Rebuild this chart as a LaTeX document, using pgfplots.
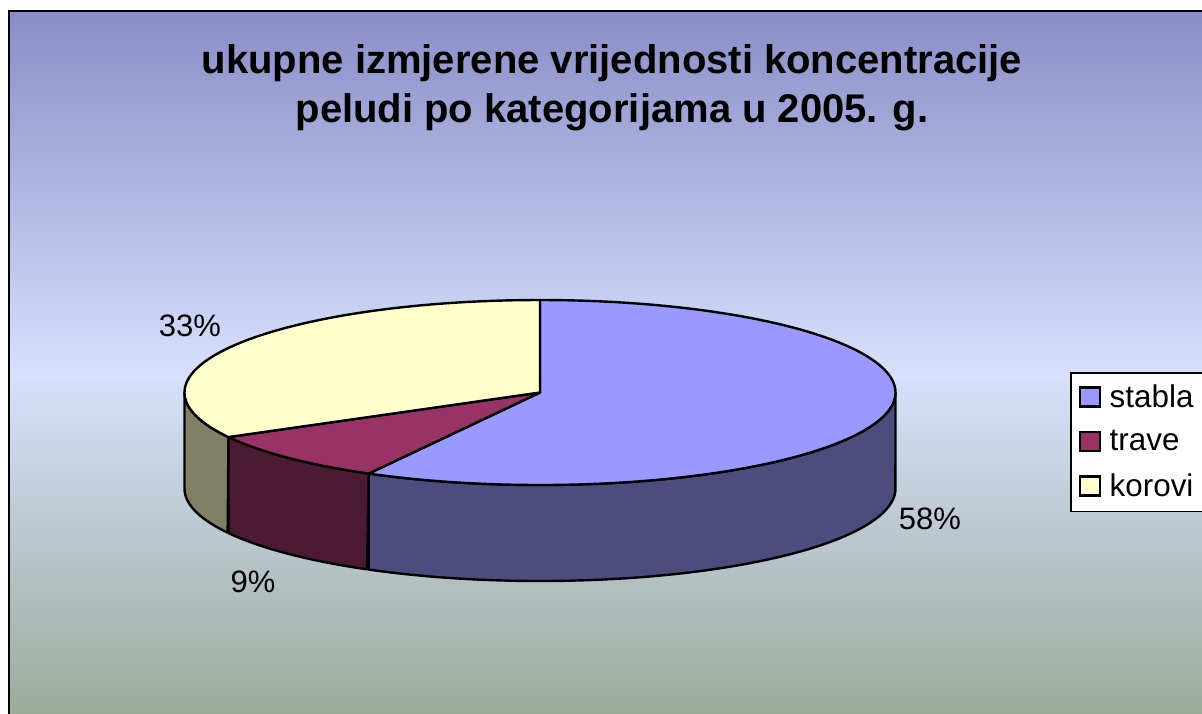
\documentclass[border=0pt]{standalone}
\usepackage{pgfplots}
\pgfplotsset{compat=1.18}
\usepackage{fontspec}
\setmainfont{Liberation Sans}
\definecolor{stablaTop}{RGB}{153,153,255}
\definecolor{stablaSide}{RGB}{76,76,127}
\definecolor{traveTop}{RGB}{153,51,102}
\definecolor{traveSide}{RGB}{77,26,51}
\definecolor{koroviTop}{RGB}{255,255,204}
\definecolor{koroviSide}{RGB}{128,128,102}
\definecolor{bgTop}{RGB}{137,142,199}
\definecolor{bgMid}{RGB}{215,224,252}
\definecolor{bgBot}{RGB}{150,168,148}
% data (percent)
\def\vStabla{58}
\def\vTrave{9}
\def\vKorovi{33}
\begin{document}
\begin{tikzpicture}
\def\cx{540}\def\cy{392.5}\def\rx{355.5}\def\ry{92.5}\def\dd{96}
\pgfmathsetmacro{\aS}{90}
\pgfmathsetmacro{\aT}{\aS-3.6*\vStabla}
\pgfmathsetmacro{\aK}{\aT-3.6*\vTrave}
\pgfmathsetmacro{\aE}{\aK-3.6*\vKorovi}
\begin{axis}[
  scale only axis, width=601pt, height=356.5pt,
  xmin=0, xmax=1202, ymin=0, ymax=713, y dir=reverse,
  axis lines=none, clip=false,
  declare function={wt(\s,\pa,\pb)=(\s<=1.005)*(\pa+(\pb-\pa)*min(\s,1))+(\s>1.005)*(\pb-(\pb-\pa)*(\s-1));},
  legend style={at={(axis cs:1070,372)}, anchor=north west, draw=black, line width=0.75pt, fill=white,
    font=\fontsize{15.7}{18}\selectfont, inner xsep=4pt, inner ysep=4pt, row sep=6pt},
  legend cell align=left,
  legend image code/.code={\draw[#1, line width=1.2pt] (0pt,-4.5pt) rectangle (10pt,5pt); \path (12.5pt,0pt);},
]
\begin{scope}
\clip (axis cs:0,0) rectangle (axis cs:1202,713);
\fill[top color=bgTop, bottom color=bgBot, middle color=bgMid] (axis cs:9,11) rectangle (axis cs:1230,740);
\draw[line width=1.2pt] (axis cs:9,11) rectangle (axis cs:1230,740);
\end{scope}
% side walls
\addplot[forget plot, fill=koroviSide, draw=black, line width=1.2pt, line join=round, domain=0:2, samples=201]
  ({\cx+\rx*cos(wt(x,-180,\aK))},{\cy-\ry*sin(wt(x,-180,\aK))+\dd*(x>1.005)}) -- cycle;
\addplot[forget plot, fill=traveSide, draw=black, line width=1.2pt, line join=round, domain=0:2, samples=201]
  ({\cx+\rx*cos(wt(x,\aK,\aT))},{\cy-\ry*sin(wt(x,\aK,\aT))+\dd*(x>1.005)}) -- cycle;
\addplot[forget plot, fill=stablaSide, draw=black, line width=1.2pt, line join=round, domain=0:2, samples=201]
  ({\cx+\rx*cos(wt(x,\aT,0))},{\cy-\ry*sin(wt(x,\aT,0))+\dd*(x>1.005)}) -- cycle;
% top faces
\addplot[forget plot, fill=stablaTop, draw=black, line width=1.2pt, line join=round, domain=\aT:\aS, samples=150]
  ({\cx+\rx*cos(x)},{\cy-\ry*sin(x)}) -- (axis cs:\cx,\cy) -- cycle;
\addplot[forget plot, fill=traveTop, draw=black, line width=1.2pt, line join=round, domain=\aK:\aT, samples=40]
  ({\cx+\rx*cos(x)},{\cy-\ry*sin(x)}) -- (axis cs:\cx,\cy) -- cycle;
\addplot[forget plot, fill=koroviTop, draw=black, line width=1.2pt, line join=round, domain=\aE:\aK, samples=100]
  ({\cx+\rx*cos(x)},{\cy-\ry*sin(x)}) -- (axis cs:\cx,\cy) -- cycle;
\addlegendimage{fill=stablaTop, draw=black}
\addlegendentry{stabla}
\addlegendimage{fill=traveTop, draw=black}
\addlegendentry{trave}
\addlegendimage{fill=koroviTop, draw=black}
\addlegendentry{korovi}
% labels
\node[font=\fontsize{20}{24}\selectfont\bfseries, anchor=base] at (axis cs:612,73) {ukupne izmjerene vrijednosti koncentracije};
\node[font=\fontsize{20}{24}\selectfont\bfseries, anchor=base] at (axis cs:612,122) {peludi po kategorijama u 2005. g.};
\node[font=\fontsize{15.5}{18}\selectfont, anchor=base] at (axis cs:190,336) {33\%};
\node[font=\fontsize{15.5}{18}\selectfont, anchor=base] at (axis cs:930,529) {58\%};
\node[font=\fontsize{15.5}{18}\selectfont, anchor=base] at (axis cs:253,592) {9\%};
\coordinate (BL) at (axis cs:0,713);
\coordinate (TR) at (axis cs:1202,0);
\end{axis}
\pgfresetboundingbox
\useasboundingbox (BL) rectangle (TR);
\end{tikzpicture}
\end{document}
